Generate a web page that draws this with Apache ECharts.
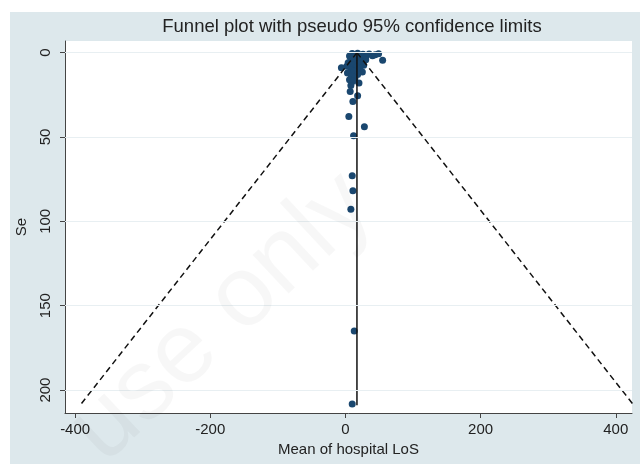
<!DOCTYPE html>
<html><head><meta charset="utf-8">
<script src="https://cdn.jsdelivr.net/npm/echarts@6/dist/echarts.min.js"></script>
<style>html,body{margin:0;padding:0;background:#fff}#c{width:640px;height:464px}</style>
</head><body><div id="c"></div>
<script>
// Study estimates (mean hospital LoS) and standard errors
const effects = [10, 14, 18, 22, 26, 30, 35, 40, 44, 49,
  55, 6, 12, 20, 25, 16, 8, 30, 14, 22,
  4, 18, 11, 27, 2, 16, -6, 21, 8, 13,
  25, 3, 18, 9, 14, 6, 11, 20, 8,
  7, 18, 11, 5, 28, 12, 10, 11, 8, 13, 10];
const ses = [0.5, 1.5, 0.3, 2.0, 1.0, 2.5, 0.8, 1.8, 1.2, 0.6,
  4.5, 2.0, 2.5, 3.0, 3.5, 2.8, 4.0, 4.2, 5.0, 5.5,
  6.0, 6.5, 7.0, 7.5, 8.0, 8.5, 9.0, 9.5, 10.0, 11.0,
  11.5, 12.0, 13.0, 14.0, 15.0, 16.0, 17.0, 18.0, 19.5,
  23.0, 25.5, 29.0, 37.9, 43.9, 49.2, 72.9, 81.8, 92.9, 165, 208.3];
const xTicks = [-400, -200, 0, 200, 400];
const yTicks = [0, 50, 100, 150, 200];
const pooled = 17;
const seMax = 209;
const z95 = 1.96;
const titleText = 'Funnel plot with pseudo 95% confidence limits';
const xName = 'Mean of hospital LoS';
const yName = 'Se';
const watermark = 'use only';

const font = 'Liberation Sans, Arial, sans-serif';
const chart = echarts.init(document.getElementById('c'), null, {renderer: 'canvas'});
const points = effects.map((e, i) => [e, ses[i]]);

chart.setOption({
  animation: false,
  backgroundColor: 'transparent',
  graphic: [
    {type: 'rect', z: -100, shape: {x: 10, y: 12, width: 630, height: 452}, style: {fill: '#dde8ec'}},
    {type: 'text', z: 100, x: 352, y: 27, style: {text: titleText, fontFamily: font, fontSize: 18.5, fill: '#222', align: 'center', verticalAlign: 'middle'}},
    {type: 'text', z: 100, x: 222, y: 318, rotation: 43 * Math.PI / 180, silent: true,
      style: {text: watermark, fontFamily: font, fontSize: 100, fill: 'rgba(0,0,0,0.03)', align: 'center', verticalAlign: 'middle'}}
  ],
  grid: {left: 65, right: 8, top: 41, bottom: 51, show: true, backgroundColor: '#fff', borderWidth: 0},
  xAxis: {
    type: 'value', min: -415, max: 424,
    name: xName, nameLocation: 'middle', nameGap: 28,
    nameTextStyle: {fontFamily: font, fontSize: 15, color: '#222'},
    axisLine: {show: true, onZero: false, lineStyle: {color: '#444', width: 1}},
    axisTick: {show: true, customValues: xTicks, length: 5, lineStyle: {color: '#444'}},
    axisLabel: {customValues: xTicks, fontFamily: font, fontSize: 15, color: '#222', margin: 9},
    splitLine: {show: false}
  },
  yAxis: {
    type: 'value', inverse: true, min: -6.9, max: 213.6,
    name: yName, nameLocation: 'middle', nameGap: 36, nameRotate: 90,
    nameTextStyle: {fontFamily: font, fontSize: 15, color: '#222'},
    axisLine: {show: true, onZero: false, lineStyle: {color: '#444', width: 1}},
    axisTick: {show: true, customValues: yTicks, length: 5, lineStyle: {color: '#444'}},
    axisLabel: {customValues: yTicks, rotate: 90, fontFamily: font, fontSize: 15, color: '#222', margin: 12},
    splitLine: {show: false}
  },
  series: [
    {type: 'line', data: [], silent: true,
      markLine: {silent: true, symbol: 'none', label: {show: false},
        lineStyle: {color: '#e8eff2', width: 1.2, type: 'solid'},
        data: yTicks.map(v => ({yAxis: v}))}},
    {type: 'scatter', data: points, symbolSize: 7, itemStyle: {color: '#1a476f', opacity: 1}, z: 3},
    {type: 'line', data: [[pooled, 0], [pooled, seMax]], symbol: 'none', lineStyle: {color: '#111', width: 1.5}, z: 4},
    {type: 'line', data: [[pooled, 0], [pooled - z95 * seMax, seMax]], symbol: 'none', lineStyle: {color: '#111', width: 1.5, type: [6, 4]}, z: 4},
    {type: 'line', data: [[pooled, 0], [pooled + z95 * seMax, seMax]], symbol: 'none', lineStyle: {color: '#111', width: 1.5, type: [6, 4]}, z: 4}
  ]
});
</script>
</body></html>
